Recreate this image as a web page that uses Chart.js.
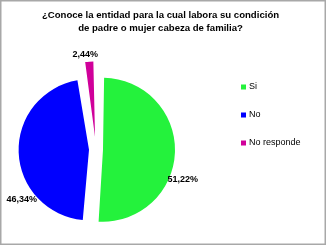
<!DOCTYPE html>
<html>
<head>
<meta charset="utf-8">
<script src="https://cdn.jsdelivr.net/npm/chart.js@4/dist/chart.umd.min.js"></script>
<style>
html,body{margin:0;padding:0;background:#fff;}
#wrap{width:327px;height:246px;position:relative;}
</style>
</head>
<body>
<div id="wrap"><canvas id="c" width="327" height="246"></canvas></div>
<script>
const categories = ['Si', 'No', 'No responde'];
const values = [51.22, 46.34, 2.44];
const titleLines = ['¿Conoce la entidad para la cual labora su condición', 'de padre o mujer cabeza de familia?'];

const sliceColors = ['#24f23c', '#0000ff', '#d0009a'];
const sliceOffsets = [28, 28, 50];
// label placement: fraction along slice sweep, distance factor of radius
const labelPlace = [{f: 0.59, k: 1.41}, {f: 0.31, k: 1.375}, {f: 0.27, k: 1.47}];

const FONT = 'Arial, "Liberation Sans", sans-serif';

const fmt = v => v.toFixed(2).replace('.', ',') + '%';

const framePlugin = {
  id: 'frame',
  beforeDraw(chart) {
    const ctx = chart.ctx;
    ctx.save();
    ctx.fillStyle = '#fff';
    ctx.fillRect(0, 0, chart.width, chart.height);
    ctx.strokeStyle = '#a8a8a8';
    ctx.lineWidth = 1.5;
    ctx.strokeRect(0.75, 0.75, 324.5, 243.5);
    // title
    ctx.fillStyle = '#000';
    ctx.font = 'bold 9.6px ' + FONT;
    ctx.textAlign = 'center';
    ctx.textBaseline = 'middle';
    titleLines.forEach((t, i) => ctx.fillText(t, 160.5, 15.5 + i * 13));
    ctx.restore();
  }
};

const labelPlugin = {
  id: 'sliceLabels',
  afterDatasetsDraw(chart) {
    const ctx = chart.ctx;
    const meta = chart.getDatasetMeta(0);
    ctx.save();
    ctx.font = 'bold 9px ' + FONT;
    ctx.fillStyle = '#000';
    ctx.textAlign = 'center';
    ctx.textBaseline = 'middle';
    meta.data.forEach((arc, i) => {
      const p = arc.getProps(['x', 'y', 'startAngle', 'endAngle', 'outerRadius'], true);
      const pl = labelPlace[i];
      const a = p.startAngle + pl.f * (p.endAngle - p.startAngle);
      const r = p.outerRadius * pl.k;
      ctx.fillText(fmt(values[i]), p.x + Math.cos(a) * r, p.y + Math.sin(a) * r);
    });
    ctx.restore();
  }
};

const legendPlugin = {
  id: 'sideLegend',
  afterDraw(chart) {
    const ctx = chart.ctx;
    ctx.save();
    ctx.font = '9px ' + FONT;
    ctx.textBaseline = 'middle';
    ctx.textAlign = 'left';
    categories.forEach((c, i) => {
      const y = 87 + i * 28;
      ctx.fillStyle = sliceColors[i];
      ctx.fillRect(241, y - 2.5, 5, 5);
      ctx.fillStyle = '#000';
      ctx.fillText(c, 249, y);
    });
    ctx.restore();
  }
};

new Chart(document.getElementById('c'), {
  type: 'pie',
  data: {
    labels: categories,
    datasets: [{
      data: values,
      backgroundColor: sliceColors,
      borderWidth: 0,
      offset: sliceOffsets,
      hoverOffset: 0
    }]
  },
  options: {
    responsive: false,
    animation: false,
    events: [],
    radius: 65,
    layout: {padding: {left: 10, right: 145, top: 60, bottom: 7}},
    plugins: {
      legend: {display: false},
      tooltip: {enabled: false},
      title: {display: false}
    }
  },
  plugins: [framePlugin, labelPlugin, legendPlugin]
});
</script>
</body>
</html>
